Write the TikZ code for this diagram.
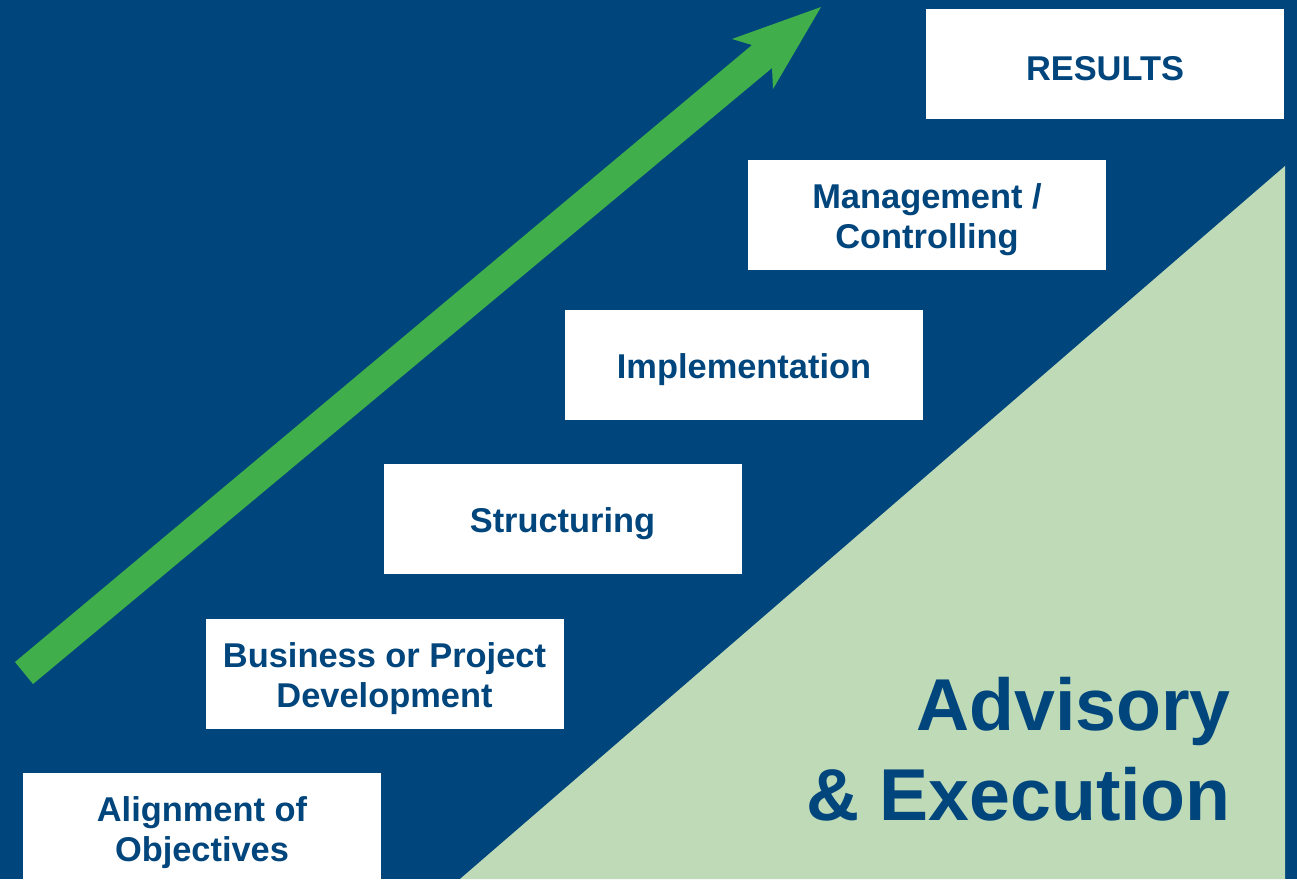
\documentclass[tikz,border=0pt]{standalone}
\usepackage{fontspec}
\setmainfont{Liberation Sans}
\definecolor{navy}{HTML}{00457C}
\definecolor{arrowgreen}{HTML}{40AE4A}
\definecolor{palegreen}{HTML}{BFDAB6}
\begin{document}
\begin{tikzpicture}[x=1pt,y=-1pt,
  stagebox/.style={fill=white, draw=none, minimum width=358pt, minimum height=110pt, inner sep=0pt},
  stagetext/.style={align=center, text=navy, inner sep=0pt, yshift=-5pt,
    font=\fontsize{34.4}{40}\selectfont\bfseries},
  bigtext/.style={text=navy, align=right, inner sep=0pt, font=\fontsize{73.5}{90}\selectfont\bfseries}]
\useasboundingbox (0,0) rectangle (1297,879);
\begin{scope}
\clip (0,0) rectangle (1297,879);
\fill[navy] (0,0) rectangle (1297,879);
\fill[palegreen] (460,879) -- (1285,166) -- (1285,879) -- cycle;
\fill[arrowgreen] (15,662) -- (752,45) -- (732,39) -- (821,7) -- (773,89) -- (772,68) -- (33,684) -- cycle;
\node[stagebox, label={[stagetext]center:RESULTS}] (results) at (1105,64) {};
\node[stagebox, label={[stagetext]center:Management /\\Controlling}] (mgmt) at (927,215) {};
\node[stagebox, label={[stagetext]center:Implementation}] (impl) at (744,365) {};
\node[stagebox, label={[stagetext]center:Structuring}] (struct) at (562.5,519) {};
\node[stagebox, label={[stagetext]center:Business or Project\\Development}] (bus) at (384.5,674) {};
\node[stagebox, label={[stagetext]center:Alignment of\\Objectives}] (align) at (202,828) {};
\node[bigtext, anchor=north east] (adv) at (1231,677) {Advisory\\\& Execution};
\end{scope}
\end{tikzpicture}
\end{document}
